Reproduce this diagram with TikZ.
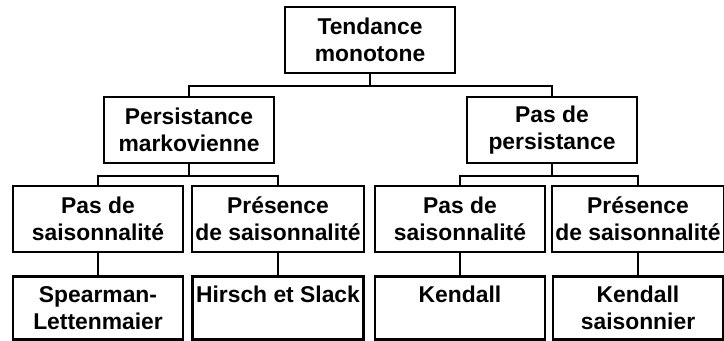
\documentclass[tikz,border=0pt]{standalone}
\usepackage{fontspec}
\setmainfont{Liberation Sans}
\usepackage{tikz}
\usetikzlibrary{positioning}
\tikzstyle{level} = [rectangle, minimum width=3.4cm, 
minimum height=1.32cm, text centered, align=center, 
draw=black, line width=1.4pt, inner sep=2pt, 
font=\fontsize{13}{15.5}\selectfont\bfseries]
\tikzstyle{result} = [level, minimum height=1.26cm]
\tikzstyle{link} = [line width=1.1pt]

\begin{document}
\begin{tikzpicture}[node distance=1.78cm]
\useasboundingbox (0,0) rectangle (14.48,-6.82);

\node (root) [level] at (7.4,-0.8) {Tendance \\ monotone};

\node (pm) [level, below of=root, xshift=-3.62cm, yshift=-0.02cm] 
{Persistance \\ markovienne};

\node (pp) [level, below of=root, xshift=3.64cm, yshift=-0.02cm] 
{Pas de \\ persistance};

%-------saisonnalite-------------------
\node (pas1) [level, below of=pm, xshift=-1.82cm] 
{Pas de \\ saisonnalité};

\node (pres1) [level, below of=pm, xshift=1.78cm] 
{Présence \\ de saisonnalité};

\node (pas2) [level, below of=pp, xshift=-1.84cm] 
{Pas de \\ saisonnalité};

\node (pres2) [level, below of=pp, xshift=1.72cm] 
{Présence \\ de saisonnalité};

%-------tests-------------------
\node (spear) [result, below of=pas1] 
{Spearman- \\ Lettenmaier};

\node (hirsch) [result, below of=pres1] 
{Hirsch et Slack \\ ~};

\node (kend) [result, below of=pas2] 
{Kendall \\ ~};

\node (kends) [result, below of=pres2] 
{Kendall \\ saisonnier};

%----------links----------------
\draw [link] (root.south) -- ++(0,-0.24) -| (pm.north);
\draw [link] (root.south) -- ++(0,-0.24) -| (pp.north);

\draw [link] (pm.south) -- ++(0,-0.24) -| (pas1.north);
\draw [link] (pm.south) -- ++(0,-0.24) -| (pres1.north);
\draw [link] (pp.south) -- ++(0,-0.24) -| (pas2.north);
\draw [link] (pp.south) -- ++(0,-0.24) -| (pres2.north);

\draw [link] (pas1) -- (spear);
\draw [link] (pres1) -- (hirsch);
\draw [link] (pas2) -- (kend);
\draw [link] (pres2) -- (kends);

\end{tikzpicture}
\end{document}
